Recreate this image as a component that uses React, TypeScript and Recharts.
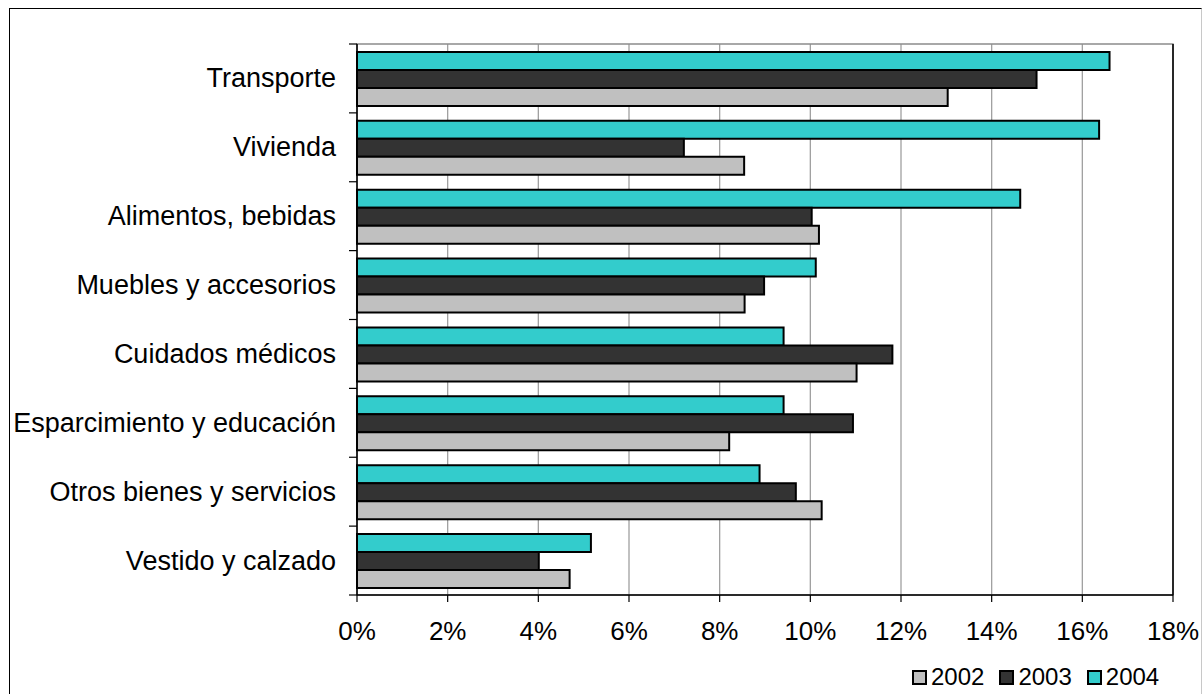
import React from 'react';
import {
  BarChart,
  Bar,
  XAxis,
  YAxis,
  CartesianGrid,
  Legend,
  ReferenceArea,
  ReferenceLine,
} from 'recharts';

const categories = [
  'Transporte',
  'Vivienda',
  'Alimentos, bebidas',
  'Muebles y accesorios',
  'Cuidados médicos',
  'Esparcimiento y educación',
  'Otros bienes y servicios',
  'Vestido y calzado',
];
const values2002 = [13.03, 8.54, 10.19, 8.55, 11.02, 8.21, 10.25, 4.69];
const values2003 = [14.99, 7.21, 10.03, 8.98, 11.81, 10.94, 9.68, 4.01];
const values2004 = [16.6, 16.37, 14.63, 10.12, 9.41, 9.41, 8.88, 5.16];
const xTicks = [0, 2, 4, 6, 8, 10, 12, 14, 16, 18];
const seriesYears = ['2002', '2003', '2004'];
const seriesColors = ['#C0C0C0', '#333333', '#33CCCC'];

const data = categories.map((name, i) => ({
  name,
  y2002: values2002[i],
  y2003: values2003[i],
  y2004: values2004[i],
}));

const FONT = '"Liberation Sans", Arial, Helvetica, sans-serif';
const Y_TICK_SIZE = 8;
const Y_TICK_MARGIN = 13;

const CatTick = (props: any) => {
  const { x, y, payload, index, visibleTicksCount } = props;
  const off = payload && payload.offset ? payload.offset : 0;
  const axisX = x + Y_TICK_SIZE + Y_TICK_MARGIN;
  return (
    <g>
      <line x1={axisX - Y_TICK_SIZE} x2={axisX} y1={y - off} y2={y - off} stroke="#000" strokeWidth={1.2} />
      {index === visibleTicksCount - 1 && (
        <line x1={axisX - Y_TICK_SIZE} x2={axisX} y1={y + off} y2={y + off} stroke="#000" strokeWidth={1.2} />
      )}
      <text x={x} y={y} textAnchor="end" dominantBaseline="central" fontSize={27} fill="#000" fontFamily={FONT}>
        {payload.value}
      </text>
    </g>
  );
};

const LegendContent = () => (
  <div style={{ display: 'flex', alignItems: 'center', fontSize: 24, fontFamily: FONT, color: '#000', lineHeight: '28px' }}>
    {seriesYears.map((yr, i) => (
      <div key={yr} style={{ display: 'flex', alignItems: 'center', marginRight: i < seriesYears.length - 1 ? 15 : 0 }}>
        <span
          style={{
            display: 'inline-block',
            width: 11,
            height: 11,
            border: '2px solid #000',
            background: seriesColors[i],
            marginRight: 4,
          }}
        />
        <span>{yr}</span>
      </div>
    ))}
  </div>
);

export default function App() {
  return (
    <div style={{ position: 'absolute', left: 0, top: 0, width: 1203, height: 694, background: '#fff', overflow: 'hidden' }}>
      <div
        style={{
          position: 'absolute',
          left: 9,
          top: 8,
          width: 1193,
          height: 686,
          boxSizing: 'border-box',
          borderLeft: '1.5px solid #000',
          borderTop: '1.5px solid #000',
          borderRight: '1px solid #c8c8c8',
        }}
      />
      <div style={{ position: 'absolute', left: 0, top: 0 }}>
        <BarChart
          width={1203}
          height={694}
          data={data}
          layout="vertical"
          margin={{ top: 44, right: 30, bottom: 0, left: 0 }}
          barCategoryGap="11.5%"
          barGap={0}
        >
          <CartesianGrid horizontal={false} vertical stroke="#a0a0a0" strokeWidth={1.3} />
          <ReferenceArea x1={0} x2={18} fill="none" stroke="#8c8c8c" strokeWidth={1.3} />
          <XAxis
            type="number"
            domain={[0, 18]}
            ticks={xTicks}
            tickFormatter={(v: number) => `${v}%`}
            height={99}
            tickSize={7}
            tickMargin={20}
            axisLine={{ stroke: '#000', strokeWidth: 1.5 }}
            tickLine={{ stroke: '#000', strokeWidth: 1.2 }}
            tick={{ fontSize: 26, fill: '#000', fontFamily: FONT }}
            interval={0}
          />
          <YAxis
            type="category"
            dataKey="name"
            width={357}
            tickSize={Y_TICK_SIZE}
            tickMargin={Y_TICK_MARGIN}
            tickLine={false}
            axisLine={{ stroke: '#000', strokeWidth: 1.5 }}
            tick={<CatTick />}
            interval={0}
          />
          <ReferenceLine x={18} stroke="#000" strokeWidth={1.5} />
          <Bar dataKey="y2004" name="2004" fill={seriesColors[2]} stroke="#000" strokeWidth={2} isAnimationActive={false} />
          <Bar dataKey="y2003" name="2003" fill={seriesColors[1]} stroke="#000" strokeWidth={2} isAnimationActive={false} />
          <Bar dataKey="y2002" name="2002" fill={seriesColors[0]} stroke="#000" strokeWidth={2} isAnimationActive={false} />
          <Legend
            layout="horizontal"
            verticalAlign="middle"
            align="center"
            content={<LegendContent />}
            wrapperStyle={{ left: 912, top: 663, width: 'auto', height: 'auto', bottom: 'auto', right: 'auto' }}
          />
        </BarChart>
      </div>
    </div>
  );
}
